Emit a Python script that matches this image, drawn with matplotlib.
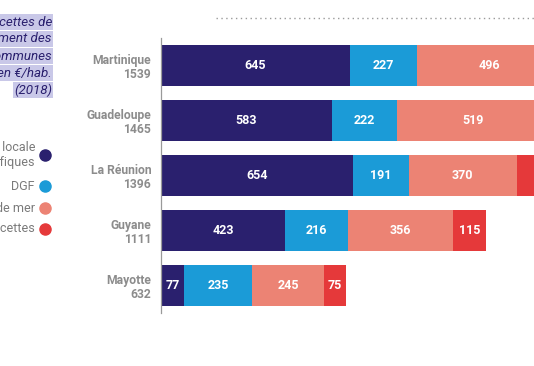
import matplotlib.pyplot as plt
import numpy as np

# data (€/hab., 2018)
territoires = ["Martinique", "Guadeloupe", "La Réunion", "Guyane", "Mayotte"]
totaux = [1539, 1465, 1396, 1111, 632]
fiscalite = [645, 583, 654, 423, 77]
dgf = [227, 222, 191, 216, 235]
octroi = [496, 519, 370, 356, 245]
autres = [171, 141, 181, 115, 75]

series = [fiscalite, dgf, octroi, autres]
series_labels = ["Fiscalité locale\net taxes spécifiques", "DGF", "Octroi de mer", "Autres recettes"]
COLORS = ["#2a206e", "#1b9bd7", "#ec8374", "#e5393a"]
GREY = "#8c8c8c"

W, H = 534, 366
fig = plt.figure(figsize=(W / 100, H / 100), dpi=100)

# axes from x=161px to the right edge, y from 38px to 313px
ax = fig.add_axes([161 / W, 1 - 313 / H, 1 - 161 / W, 275 / H])

y = np.arange(len(territoires))
left = np.zeros(len(territoires))
for vals, color in zip(series, COLORS):
    vals = np.array(vals)
    ax.barh(y, vals, left=left, height=0.75, color=color, linewidth=0)
    for yi, (l, v) in enumerate(zip(left, vals)):
        ax.text(l + v / 2, yi, str(v), ha="center", va="center",
                color="white", fontsize=9, fontweight="bold", family="Roboto")
    left += vals

ax.set_xlim(0, 1273)
ax.set_ylim(len(territoires) - 0.5, -0.5)
ax.set_yticks(y)
ax.set_yticklabels([f"{t}\n{v}" for t, v in zip(territoires, totaux)],
                   ha="right", color=GREY, fontsize=8.7, fontweight="bold",
                   family="Roboto", linespacing=1.1)
ax.tick_params(axis="y", length=0, pad=7)
ax.set_xticks([])
for s in ["top", "right", "bottom"]:
    ax.spines[s].set_visible(False)
ax.spines["left"].set_color("#9a9a9a")
ax.spines["left"].set_linewidth(0.9)

# title block on the left (cut by the frame)
title_lines = ["Les recettes de", "fonctionnement des", "communes", "en €/hab.", "(2018)"]
for i, line in enumerate(title_lines):
    fig.text(52 / W, 1 - (22 + i * 17) / H, line, ha="right", va="center",
             fontsize=9.6, style="italic", color="#2a206e", family="Roboto",
             bbox=dict(facecolor="#c9c8e8", edgecolor="none", pad=1.0))

# legend (cut by the frame)
legend_y = [155, 186, 208, 229]
for ly, lab, color in zip(legend_y, series_labels, COLORS):
    fig.text(35 / W, 1 - ly / H, lab, ha="right", va="center", fontsize=9,
             color="#7a7a7a", family="Roboto", linespacing=1.15)
    fig.add_artist(plt.Line2D([45 / W], [1 - ly / H], transform=fig.transFigure,
                              marker="o", markersize=8, color=color,
                              linestyle="none"))

# dotted rule at the top
fig.add_artist(plt.Line2D([216 / W, 1], [1 - 18 / H, 1 - 18 / H],
                          transform=fig.transFigure, color="#9a9a9a",
                          linestyle=(0, (1, 2.5)), linewidth=1))

fig.savefig("out.png", dpi=100)
